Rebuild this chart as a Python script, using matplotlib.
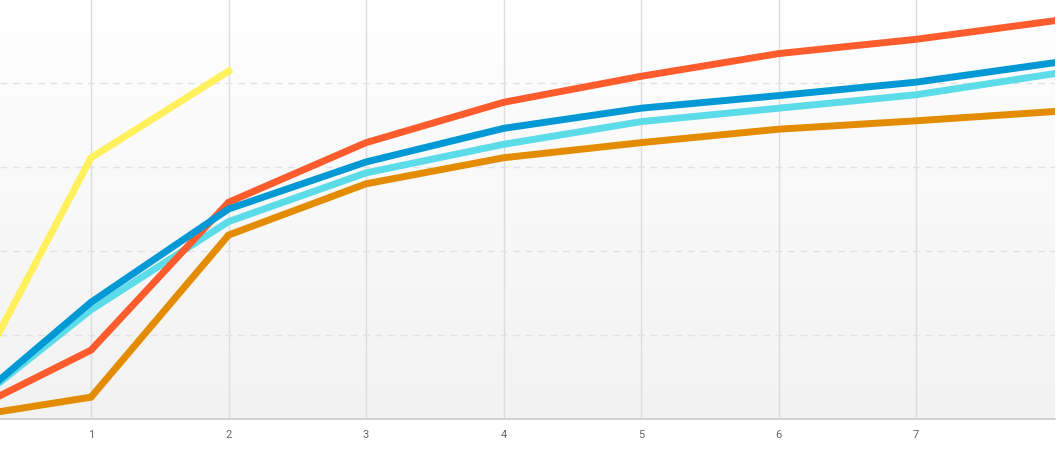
import matplotlib
matplotlib.use('Agg')
import matplotlib.pyplot as plt
import numpy as np

x = [0, 1, 2, 3, 4, 5, 6, 7, 8]

red = [0, 0.82, 2.58, 3.29, 3.77, 4.08, 4.35, 4.52, 4.74]
blue = [0, 1.39, 2.50, 3.06, 3.46, 3.70, 3.85, 4.01, 4.24]
cyan = [0, 1.30, 2.35, 2.93, 3.27, 3.54, 3.70, 3.86, 4.11]
orange = [0, 0.26, 2.19, 2.80, 3.11, 3.29, 3.45, 3.55, 3.66]
yellow_x = [0, 1, 2]
yellow = [0, 3.11, 4.14]

xticks = [1, 2, 3, 4, 5, 6, 7]

plt.rcParams['font.family'] = ['Roboto', 'DejaVu Sans']

fig = plt.figure(figsize=(10.6, 4.56), dpi=100)
ax = fig.add_axes([0, 36 / 456, 1055 / 1060, 420 / 456])

# soft vertical gradient behind the plot
grad = np.linspace(1.0, 0.0, 256).reshape(-1, 1)
ax.imshow(grad, cmap=matplotlib.colors.LinearSegmentedColormap.from_list('bg', ['#f2f2f2', '#ffffff']),
          extent=[0, 1, 0, 1], transform=ax.transAxes, aspect='auto', zorder=0)

lw = 5.0
ax.plot(yellow_x, yellow, color='#fff05c', lw=lw, zorder=3, solid_joinstyle='miter')
ax.plot(x, orange, color='#e38c00', lw=lw, zorder=3, solid_joinstyle='miter')
ax.plot(x, cyan, color='#5cdbe8', lw=lw, zorder=3, solid_joinstyle='miter')
ax.plot(x, blue, color='#0099d6', lw=lw, zorder=4, solid_joinstyle='miter')
ax.plot(x, red, color='#ff5c2e', lw=lw, zorder=3, solid_joinstyle='miter')

ax.set_xlim(0.338, 8.01)
ax.set_ylim(0, 5.0)

for xv in xticks:
    ax.axvline(xv, color='#dddddd', lw=1, zorder=1)
for yv in [1, 2, 3, 4]:
    ax.axhline(yv, color='#e2e2e2', lw=1, ls=(0, (5, 4)), zorder=1)

for s in ['top', 'right', 'left']:
    ax.spines[s].set_visible(False)
ax.spines['bottom'].set_color('#cccccc')
ax.spines['bottom'].set_linewidth(1.2)

ax.set_xticks(xticks)
ax.set_xticklabels([str(t) for t in xticks])
ax.set_yticks([])
ax.tick_params(axis='x', length=0, pad=7, labelsize=8, labelcolor='#666666')

fig.savefig('out.png', dpi=100, facecolor='white')
